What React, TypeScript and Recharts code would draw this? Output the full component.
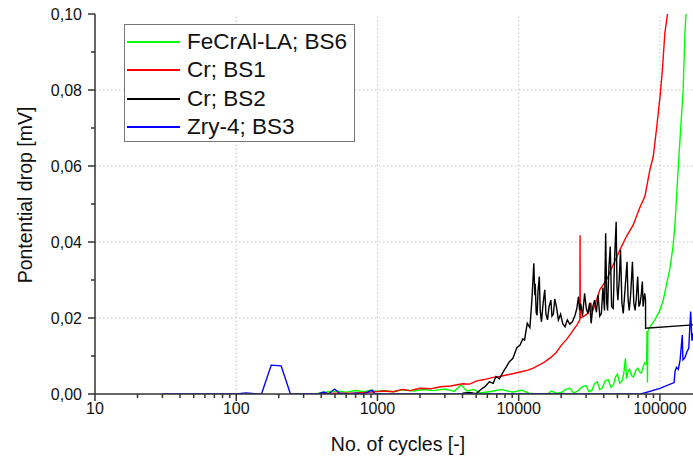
import { LineChart, Line, XAxis, YAxis, ReferenceLine } from "recharts";

type Pt = [number, number];

const xMajorTicks = [10, 100, 1000, 10000, 100000];
const xAllTicks = [
  10, 20, 30, 40, 50, 60, 70, 80, 90,
  100, 200, 300, 400, 500, 600, 700, 800, 900,
  1000, 2000, 3000, 4000, 5000, 6000, 7000, 8000, 9000,
  10000, 20000, 30000, 40000, 50000, 60000, 70000, 80000, 90000,
  100000,
];
const yAllTicks = [0, 0.01, 0.02, 0.03, 0.04, 0.05, 0.06, 0.07, 0.08, 0.09, 0.1];
const xGrid = [100, 1000, 10000, 100000];
const yGrid = [0.02, 0.04, 0.06, 0.08];

// FeCrAl-LA; BS6
const feCrAlBS6: Pt[] = [
  [380, 0.0002], [450, 0.0006], [520, 0.0008], [600, 0.0005], [700, 0.0009],
  [800, 0.0006], [900, 0.001], [1000, 0.0007], [1100, 0.0009], [1300, 0.0006],
  [1500, 0.0011], [1800, 0.0008], [2100, 0.0012], [2500, 0.0009], [3000, 0.0013],
  [3500, 0.0007], [3900, 0.0024], [4300, 0.0008], [4800, 0.0012], [5300, 0.0003],
  [6200, 0.0006], [7500, 0.0012], [9000, 0.0005], [10500, 0.001], [11800, 0.0002],
  [13000, 0], [16000, 0], [17000, 0.0008], [18500, 0.0002], [20000, 0.0004],
  [21500, 0.0012], [23000, 0.0015], [24500, 0.0003], [26000, 0.0007], [28000, 0.0018],
  [30000, 0.0022], [31500, 0.0006], [33000, 0.001], [34500, 0.0028], [36000, 0.0032],
  [37500, 0.0012], [39000, 0.0015], [41000, 0.0035], [43000, 0.0038], [45000, 0.0018],
  [47000, 0.0025], [48500, 0.0045], [50000, 0.0052], [52000, 0.0028], [54000, 0.0035],
  [55500, 0.0055], [57000, 0.0094], [58000, 0.004], [59500, 0.006], [61000, 0.0065],
  [63000, 0.0048], [65000, 0.0045], [67500, 0.0062], [70000, 0.0068], [72000, 0.0058],
  [74000, 0.0055], [76000, 0.0072], [78000, 0.0082], [80500, 0.0078], [81000, 0.0165],
  [81600, 0.003], [82200, 0.0165], [85000, 0.0177], [92000, 0.0195], [100000, 0.022],
  [106000, 0.025], [111500, 0.029], [117700, 0.033], [124000, 0.039], [128000, 0.045],
  [135000, 0.06], [146000, 0.08], [150400, 0.095], [153000, 0.1], [155000, 0.106],
];

// Cr; BS1
const crBS1: Pt[] = [
  [380, 0], [500, 0.0002], [700, 0.0003], [900, 0.0005], [1100, 0.0008],
  [1300, 0.0006], [1500, 0.0012], [1700, 0.0009], [2000, 0.0015], [2400, 0.0014],
  [2800, 0.0019], [3300, 0.0021], [4000, 0.0027], [4500, 0.0026], [5000, 0.0034],
  [5700, 0.0038], [6500, 0.0043], [7300, 0.0046], [8200, 0.005], [9200, 0.0054],
  [10200, 0.0058], [11500, 0.0062], [12800, 0.0069], [14100, 0.0077], [15500, 0.0086],
  [17000, 0.0097], [18500, 0.011], [20000, 0.0128], [22000, 0.0145], [24000, 0.0165],
  [26000, 0.0183], [27100, 0.0195], [27200, 0.0418], [27300, 0.02], [29000, 0.0205],
  [31000, 0.0212], [32500, 0.024], [33000, 0.0215], [34000, 0.0225], [37600, 0.0275],
  [41900, 0.03], [46000, 0.0335], [52200, 0.038], [58000, 0.0415], [64700, 0.0445],
  [72000, 0.049], [78300, 0.052], [84900, 0.059], [89700, 0.0625], [94800, 0.07],
  [100000, 0.078], [104000, 0.085], [108400, 0.095], [113200, 0.1], [116000, 0.106],
];

// Cr; BS2
const crBS2: Pt[] = [
  [4000, 0.0002], [4500, 0.0004], [5000, 0.0001], [5400, 0.0012], [5800, 0.002],
  [6200, 0.0032], [6600, 0.0028], [6900, 0.0046], [7300, 0.004], [7900, 0.0063],
  [8200, 0.0072], [8600, 0.0085], [9100, 0.0094], [9700, 0.0122], [10200, 0.0128],
  [10700, 0.0145], [11000, 0.0142], [11500, 0.0186], [12000, 0.0175], [12400, 0.0247],
  [12800, 0.0344], [13000, 0.026], [13100, 0.029], [13300, 0.0215], [13500, 0.0207],
  [13700, 0.027], [14000, 0.0309], [14200, 0.022], [14500, 0.019], [14900, 0.024],
  [15300, 0.0274], [15600, 0.021], [16000, 0.0195], [16400, 0.023], [16900, 0.0247],
  [17200, 0.0205], [17600, 0.021], [18000, 0.025], [18500, 0.023], [19100, 0.0195],
  [19800, 0.021], [20500, 0.0185], [21300, 0.0177], [22100, 0.0195], [23000, 0.0184],
  [24000, 0.019], [25100, 0.0208], [25800, 0.0225], [26500, 0.0256], [27000, 0.022],
  [27500, 0.0238], [28300, 0.0205], [29300, 0.0265], [30100, 0.0225], [30900, 0.0212],
  [31800, 0.024], [32600, 0.0186], [33500, 0.023], [34500, 0.0247], [35500, 0.0215],
  [36500, 0.026], [37500, 0.0205], [38500, 0.0212], [39500, 0.028], [40500, 0.022],
  [41300, 0.0423], [42000, 0.024], [42600, 0.022], [43500, 0.033], [44500, 0.0388],
  [45500, 0.023], [46700, 0.0225], [47800, 0.036], [49000, 0.0453], [49700, 0.028],
  [50400, 0.0247], [51500, 0.03], [52600, 0.0379], [53800, 0.024], [55000, 0.0212],
  [56500, 0.027], [58500, 0.0348], [59500, 0.025], [60600, 0.022], [62000, 0.026],
  [63900, 0.0348], [65300, 0.024], [66700, 0.022], [68000, 0.025], [69600, 0.0309],
  [71000, 0.023], [72300, 0.0237], [73700, 0.026], [75100, 0.0296], [76000, 0.023],
  [76900, 0.0247], [78000, 0.0265], [79100, 0.0247], [79200, 0.0173], [171500, 0.0182],
];

// Zry-4; BS3
const zry4BS3: Pt[] = [
  [30, 0], [60, 0], [100, 0], [117, 0.0003], [135, 0.0001], [151, 0], [177, 0.0076],
  [208, 0.0074], [242, 0], [300, 0], [380, 0], [415, 0.0005], [450, 0], [497, 0.0013],
  [540, 0.0002], [620, 0], [700, 0.0002], [800, 0], [915, 0.001], [960, 0],
  [5000, 0], [73500, 0], [100000, 0.0015], [126000, 0.003], [128000, 0.006],
  [131000, 0.007], [135000, 0.0065], [139000, 0.009], [144000, 0.0155], [145500, 0.009],
  [150000, 0.0095], [155000, 0.011], [160000, 0.012], [165000, 0.0217], [168500, 0.014],
  [171500, 0.016],
];

const series = [
  { name: "FeCrAl-LA; BS6", color: "#00ff00", points: feCrAlBS6 },
  { name: "Cr; BS1", color: "#ff0000", points: crBS1 },
  { name: "Cr; BS2", color: "#000000", points: crBS2 },
  { name: "Zry-4; BS3", color: "#0000ff", points: zry4BS3 },
];

const FONT = '"Liberation Sans", Arial, sans-serif';
const AXIS = "#333";
const X_MAX = 171500;

function BottomTick(props: any) {
  const { x, y, payload } = props;
  const major = xMajorTicks.includes(payload.value);
  return (
    <g>
      <line x1={x} x2={x} y1={y} y2={y + (major ? 7 : 4)} stroke={AXIS} strokeWidth={1.5} />
      {major && (
        <text x={x} y={y + 20} textAnchor="middle" fontSize={16} fontFamily={FONT} fill="#111">
          {payload.value}
        </text>
      )}
    </g>
  );
}

function TopTick(props: any) {
  const { x, y, payload } = props;
  const major = xMajorTicks.includes(payload.value);
  return <line x1={x} x2={x} y1={y} y2={y + (major ? 7 : 4)} stroke={AXIS} strokeWidth={1.5} />;
}

function LeftTick(props: any) {
  const { x, y, payload } = props;
  const major = Math.round(payload.value * 100) % 2 === 0;
  return (
    <g>
      <line x1={x} x2={x - (major ? 7 : 4)} y1={y} y2={y} stroke={AXIS} strokeWidth={1.5} />
      {major && (
        <text x={x - 13} y={y + 5.5} textAnchor="end" fontSize={16} fontFamily={FONT} fill="#111">
          {payload.value.toFixed(2).replace(".", ",")}
        </text>
      )}
    </g>
  );
}

export default function App() {
  const lines = series.map((s) => ({
    ...s,
    data: s.points.map(([x, y]) => ({ x, y })),
  }));

  return (
    <div style={{ position: "absolute", left: 0, top: 0, width: 693, height: 456, background: "#fff", fontFamily: FONT }}>
      <LineChart width={693} height={456} margin={{ top: 14, right: 0, bottom: 32, left: 35 }}>
        <XAxis
          xAxisId="bottom"
          dataKey="x"
          type="number"
          scale="log"
          domain={[10, X_MAX]}
          allowDataOverflow
          ticks={xAllTicks}
          interval={0}
          tickSize={0}
          tickMargin={0}
          tick={<BottomTick />}
          axisLine={{ stroke: AXIS, strokeWidth: 1.5 }}
          height={30}
        />
        <XAxis
          xAxisId="top"
          orientation="top"
          dataKey="x"
          type="number"
          scale="log"
          domain={[10, X_MAX]}
          allowDataOverflow
          ticks={xAllTicks}
          interval={0}
          tickSize={0}
          tickMargin={0}
          tick={<TopTick />}
          axisLine={{ stroke: AXIS, strokeWidth: 1.5 }}
          height={0}
        />
        <YAxis
          yAxisId="left"
          type="number"
          domain={[0, 0.1]}
          allowDataOverflow
          ticks={yAllTicks}
          interval={0}
          tickSize={0}
          tickMargin={0}
          tick={<LeftTick />}
          axisLine={{ stroke: AXIS, strokeWidth: 1.5 }}
          width={60}
        />
        {xGrid.map((v) => (
          <ReferenceLine key={`gx${v}`} x={v} xAxisId="bottom" yAxisId="left" stroke="#c4c4c4" strokeDasharray="1.5 2.5" />
        ))}
        {yGrid.map((v) => (
          <ReferenceLine key={`gy${v}`} y={v} xAxisId="bottom" yAxisId="left" stroke="#c4c4c4" strokeDasharray="1.5 2.5" />
        ))}
        {lines.map((s) => (
          <Line
            key={s.name}
            name={s.name}
            data={s.data}
            dataKey="y"
            xAxisId="bottom"
            yAxisId="left"
            type="linear"
            stroke={s.color}
            strokeWidth={1.4}
            dot={false}
            isAnimationActive={false}
          />
        ))}
      </LineChart>

      <svg width={693} height={456} style={{ position: "absolute", left: 0, top: 0, pointerEvents: "none" }}>
        <text x={398} y={451} textAnchor="middle" fontSize={19.5} fontFamily={FONT} fill="#111">
          No. of cycles [-]
        </text>
        <text
          x={31.5}
          y={195}
          textAnchor="middle"
          fontSize={19.5}
          fontFamily={FONT}
          fill="#111"
          transform="rotate(-90 31.5 195)"
        >
          Pontential drop [mV]
        </text>
      </svg>

      <div
        style={{
          position: "absolute",
          left: 124,
          top: 24,
          width: 231,
          height: 118,
          border: "1px solid #777",
          background: "#fff",
          boxSizing: "border-box",
        }}
      >
        {series.map((s, i) => (
          <div
            key={s.name}
            style={{
              position: "absolute",
              left: 0,
              top: 3 + i * 28.3,
              height: 28,
              display: "flex",
              alignItems: "center",
              whiteSpace: "nowrap",
            }}
          >
            <div style={{ marginLeft: 2, width: 53, height: 2, background: s.color }} />
            <span style={{ marginLeft: 7, fontSize: 22.5, color: "#111", lineHeight: "28px" }}>{s.name}</span>
          </div>
        ))}
      </div>
    </div>
  );
}
